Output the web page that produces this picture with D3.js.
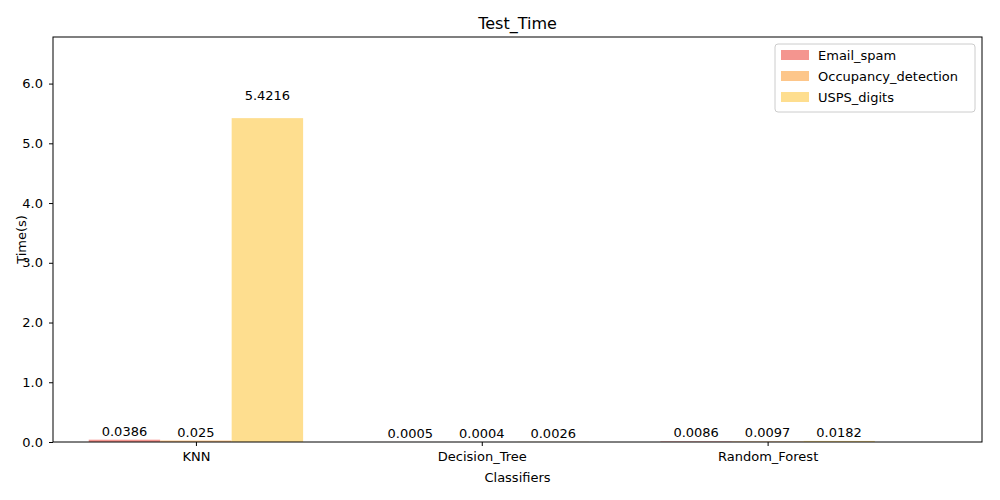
<!DOCTYPE html>
<html><head><meta charset="utf-8">
<script src="https://cdn.jsdelivr.net/npm/d3@7"></script>
<style>body{margin:0;background:#fff}text{font-family:"DejaVu Sans",sans-serif;}</style>
</head><body><svg id="c" width="1000" height="500"></svg>
<script>
const categories = ["KNN","Decision_Tree","Random_Forest"];
const seriesNames = ["Email_spam","Occupancy_detection","USPS_digits"];
const emailSpam = [0.0386,0.0005,0.0086];
const occupancy = [0.025,0.0004,0.0097];
const usps = [5.4216,0.0026,0.0182];
const yTicks = [0,1,2,3,4,5,6];
const colors = ["#f4958f","#fdc68a","#fede8f"];
const series = [emailSpam, occupancy, usps];

const svg = d3.select("#c");
const L=53,R=982,T=37,B=442;
const x = d3.scaleLinear().domain([-0.25,3.0]).range([L,R]);
const y = d3.scaleLinear().domain([0,6.78]).range([B,T]);
const w = 0.25;

series.forEach((s,si)=>{
  svg.selectAll(null).data(s).enter().append("rect")
    .attr("x",(d,i)=>x(i+si*w-w/2)).attr("width",x(w)-x(0))
    .attr("y",d=>y(d)).attr("height",d=>B-y(d)).attr("fill",colors[si]);
  svg.selectAll(null).data(s).enter().append("text")
    .attr("x",(d,i)=>x(i+si*w)).attr("y",d=>y(d)-(d>1?18:4))
    .attr("text-anchor","middle").attr("font-size",13).text(d=>d);
});

svg.append("rect").attr("x",L).attr("y",T).attr("width",R-L).attr("height",B-T)
  .attr("fill","none").attr("stroke","#000");
const ya=svg.append("g").attr("transform",`translate(${L},0)`)
  .call(d3.axisLeft(y).tickValues(yTicks).tickSize(4).tickPadding(6));
const xa=svg.append("g").attr("transform",`translate(0,${B})`)
  .call(d3.axisBottom(x).tickValues([0.25,1.25,2.25]).tickFormat((d,i)=>categories[i]).tickSize(4).tickPadding(6));
[ya,xa].forEach(a=>{a.select(".domain").remove();a.selectAll("text").attr("font-size",13).attr("font-family","DejaVu Sans");});
svg.append("text").attr("x",(L+R)/2).attr("y",29).attr("text-anchor","middle").attr("font-size",16).text("Test_Time");
svg.append("text").attr("x",(L+R)/2).attr("y",482).attr("text-anchor","middle").attr("font-size",13).text("Classifiers");
svg.append("text").attr("transform",`translate(26,${(T+B)/2}) rotate(-90)`).attr("text-anchor","middle").attr("font-size",13).text("Time(s)");

const lg=svg.append("g");
lg.append("rect").attr("x",775).attr("y",44).attr("width",200).attr("height",68).attr("rx",3)
  .attr("fill","#fff").attr("stroke","#ccc");
seriesNames.forEach((n,i)=>{
  lg.append("rect").attr("x",781).attr("y",50+i*21).attr("width",28).attr("height",10).attr("fill",colors[i]);
  lg.append("text").attr("x",818).attr("y",60+i*21).attr("font-size",13).text(n);
});
</script></body></html>
